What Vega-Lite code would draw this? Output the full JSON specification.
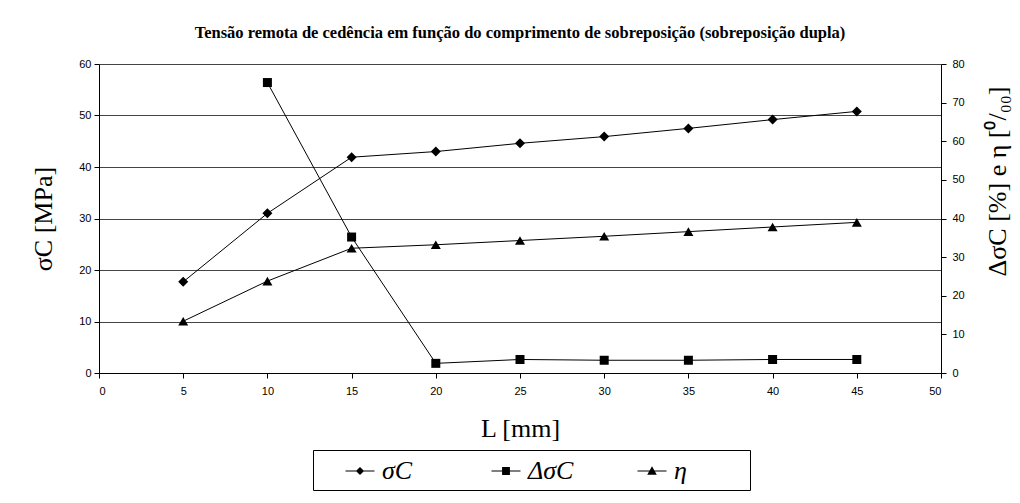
{
  "$schema": "https://vega.github.io/schema/vega-lite/v6.json",
  "width": 842,
  "height": 309,
  "autosize": {"type": "none"},
  "padding": {"left": 99, "top": 64, "right": 79, "bottom": 130},
  "background": "white",
  "title": {
    "text": "Tensão remota de cedência em função do comprimento de sobreposição (sobreposição dupla)",
    "font": "Liberation Serif",
    "fontSize": 16.5,
    "fontWeight": "bold",
    "color": "black",
    "anchor": "middle",
    "offset": 17
  },
  "datasets": {
    "sigma": [
      {"L": 5, "v": 17.7, "s": "σC"},
      {"L": 10, "v": 31.0, "s": "σC"},
      {"L": 15, "v": 41.9, "s": "σC"},
      {"L": 20, "v": 43.0, "s": "σC"},
      {"L": 25, "v": 44.6, "s": "σC"},
      {"L": 30, "v": 45.9, "s": "σC"},
      {"L": 35, "v": 47.5, "s": "σC"},
      {"L": 40, "v": 49.2, "s": "σC"},
      {"L": 45, "v": 50.8, "s": "σC"}
    ],
    "right": [
      {"L": 10, "v": 75.2, "s": "ΔσC"},
      {"L": 15, "v": 35.2, "s": "ΔσC"},
      {"L": 20, "v": 2.5, "s": "ΔσC"},
      {"L": 25, "v": 3.5, "s": "ΔσC"},
      {"L": 30, "v": 3.3, "s": "ΔσC"},
      {"L": 35, "v": 3.3, "s": "ΔσC"},
      {"L": 40, "v": 3.5, "s": "ΔσC"},
      {"L": 45, "v": 3.5, "s": "ΔσC"},
      {"L": 5, "v": 13.4, "s": "η"},
      {"L": 10, "v": 23.8, "s": "η"},
      {"L": 15, "v": 32.3, "s": "η"},
      {"L": 20, "v": 33.2, "s": "η"},
      {"L": 25, "v": 34.3, "s": "η"},
      {"L": 30, "v": 35.4, "s": "η"},
      {"L": 35, "v": 36.6, "s": "η"},
      {"L": 40, "v": 37.8, "s": "η"},
      {"L": 45, "v": 39.0, "s": "η"}
    ]
  },
  "layer": [
    {
      "data": {"name": "sigma"},
      "encoding": {
        "x": {
          "field": "L", "type": "quantitative",
          "scale": {"domain": [0, 50], "nice": false},
          "axis": {
            "values": [0, 5, 10, 15, 20, 25, 30, 35, 40, 45, 50],
            "title": "L [mm]",
            "tickSize": 5,
            "labelPadding": 7,
            "titlePadding": 19
          }
        },
        "y": {
          "field": "v", "type": "quantitative",
          "scale": {"domain": [0, 60], "nice": false},
          "axis": {
            "orient": "left",
            "values": [0, 10, 20, 30, 40, 50, 60],
            "title": "σC [MPa]",
            "grid": true,
            "gridColor": "#444444",
            "gridWidth": 1,
            "tickSize": 5,
            "labelPadding": 3,
            "titlePadding": 22
          }
        }
      },
      "layer": [
        {"mark": {"type": "line", "color": "black", "strokeWidth": 1}},
        {"mark": {"type": "point", "shape": "diamond", "filled": true, "color": "black", "opacity": 1, "size": 100}},
        {
          "mark": {"type": "point", "filled": true, "color": "black", "opacity": 0, "size": 0},
          "encoding": {
            "shape": {
              "field": "s", "type": "nominal",
              "scale": {
                "domain": ["σC", "ΔσC", "η"],
                "range": [
                  "M-1,-0.04H1V0.04H-1ZM0,-0.28L0.28,0L0,0.28L-0.28,0Z",
                  "M-1,-0.04H1V0.04H-1ZM-0.27,-0.27H0.27V0.27H-0.27Z",
                  "M-1,-0.04H1V0.04H-1ZM0,-0.33L0.33,0.25L-0.33,0.25Z"
                ]
              },
              "legend": {
                "orient": "none",
                "legendX": 214,
                "legendY": 386,
                "direction": "horizontal",
                "columns": 3,
                "gridAlign": "all",
                "columnPadding": 37,
                "title": " ",
                "titleOrient": "left",
                "titleFontSize": 8,
                "titlePadding": 26,
                "padding": 6,
                "strokeColor": "black",
                "fillColor": "white",
                "symbolSize": 841,
                "symbolStrokeWidth": 1,
                "symbolOpacity": 1,
                "symbolFillColor": "black",
                "symbolStrokeColor": "black",
                "labelFont": "Liberation Serif",
                "labelFontStyle": "italic",
                "labelFontSize": 26,
                "labelColor": "black",
                "labelOffset": 7,
                "labelExpr": "datum.label === 'η' ? 'η\u2800\u2800\u2800' : datum.label",
                "encode": {
                  "symbols": {
                    "fill": {"value": "black"},
                    "stroke": {"value": "black"},
                    "strokeWidth": {"value": 1},
                    "strokeOpacity": {"value": 1},
                    "fillOpacity": {"value": 1},
                    "opacity": {"value": 1}
                  }
                }
              }
            }
          }
        }
      ]
    },
    {
      "data": {"name": "right"},
      "encoding": {
        "x": {"field": "L", "type": "quantitative", "scale": {"domain": [0, 50], "nice": false}},
        "y": {
          "field": "v", "type": "quantitative",
          "scale": {"domain": [0, 80], "nice": false},
          "axis": {
            "orient": "right",
            "values": [0, 10, 20, 30, 40, 50, 60, 70, 80],
            "title": "ΔσC [%] e η [⁰/₀₀]",
            "titleAngle": 270,
            "titleBaseline": "top",
            "titleY": 117,
            "grid": false,
            "tickSize": 5,
            "labelPadding": 6,
            "titlePadding": 20
          }
        }
      },
      "layer": [
        {"mark": {"type": "line", "color": "black", "strokeWidth": 1}, "encoding": {"detail": {"field": "s"}}},
        {
          "transform": [{"filter": "datum.s === 'ΔσC'"}],
          "mark": {"type": "point", "shape": "square", "filled": true, "color": "black", "opacity": 1, "size": 81}
        },
        {
          "transform": [{"filter": "datum.s === 'η'"}],
          "mark": {"type": "point", "shape": "triangle-up", "filled": true, "color": "black", "opacity": 1, "size": 100}
        }
      ]
    }
  ],
  "resolve": {"scale": {"y": "independent"}},
  "config": {
    "view": {"stroke": null},
    "axis": {
      "domainColor": "black",
      "tickColor": "black",
      "labelFont": "Liberation Sans",
      "labelFontSize": 11,
      "labelColor": "black",
      "titleFont": "Liberation Serif",
      "titleFontSize": 26,
      "titleFontWeight": "normal",
      "titleColor": "black",
      "grid": false
    }
  }
}
